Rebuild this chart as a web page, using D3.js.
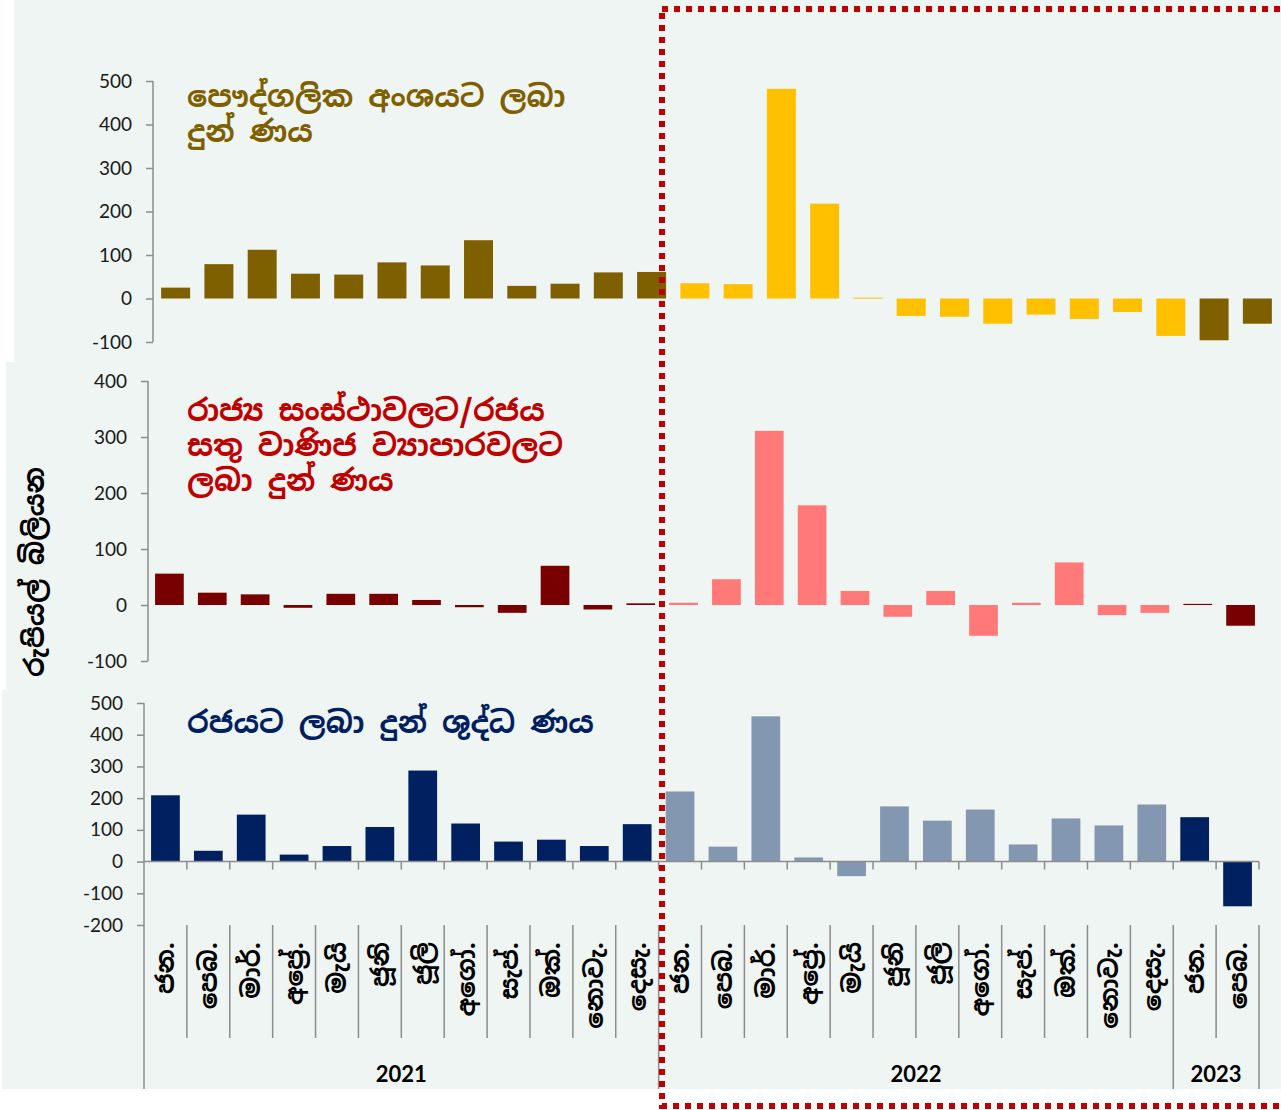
<!DOCTYPE html>
<html>
<head>
<meta charset="utf-8">
<script src="https://cdn.jsdelivr.net/npm/d3@7"></script>
<style>
  html, body { margin: 0; padding: 0; background: #ffffff; }
  svg { display: block; }
</style>
</head>
<body>
<svg id="chart" width="1281" height="1110"></svg>
<script>
// ---------------- DATA ----------------
const monthLabels = [
  "ජන.", "පෙබ.", "මාර්.", "අප්‍රේ.", "මැයි", "ජූනි", "ජූලි", "අගෝ.", "සැප්.", "ඔක්.", "නොවැ.", "දෙසැ.",
  "ජන.", "පෙබ.", "මාර්.", "අප්‍රේ.", "මැයි", "ජූනි", "ජූලි", "අගෝ.", "සැප්.", "ඔක්.", "නොවැ.", "දෙසැ.",
  "ජන.", "පෙබ."
];
const yearOfMonth = [
  "2021","2021","2021","2021","2021","2021","2021","2021","2021","2021","2021","2021",
  "2022","2022","2022","2022","2022","2022","2022","2022","2022","2022","2022","2022",
  "2023","2023"
];
const yearLabels = ["2021", "2022", "2023"];
const highlightYear = "2022";

// Rs. billion
const privateCredit = [25, 79, 112, 57, 55, 83, 76, 134, 29, 34, 60, 61,
                       35, 33, 482, 218, 2, -40, -42, -58, -37, -47, -31, -86,
                       -96, -58];
const soeCredit = [56, 22, 19, -5, 20, 20, 9, -4, -14, 70, -8, 3,
                   4, 46, 311, 178, 25, -21, 25, -55, 4, 76, -18, -14,
                   2, -37];
const govCredit = [209, 34, 148, 22, 49, 109, 287, 120, 63, 69, 49, 118,
                   221, 47, 458, 13, -46, 174, 129, 164, 54, 136, 114, 180,
                   140, -141];

const privateTicks = [-100, 0, 100, 200, 300, 400, 500];
const soeTicks = [-100, 0, 100, 200, 300, 400];
const govTicks = [-200, -100, 0, 100, 200, 300, 400, 500];

const titlePrivate = ["පෞද්ගලික අංශයට ලබා", "දුන් ණය"];
const titleSoe = ["රාජ්‍ය සංස්ථාවලට/රජය", "සතු වාණිජ ව්‍යාපාරවලට", "ලබා දුන් ණය"];
const titleGov = ["රජයට ලබා දුන් ශුද්ධ ණය"];
const yAxisTitle = "රුපියල් බිලියන";

// ---------------- DRAWING ----------------
const svg = d3.select("#chart");
const sinhalaFont = '"Noto Sans Sinhala", "Iskoola Pota", "Noto Sans", "DejaVu Sans", sans-serif';
const numFont = '"Lato", "Noto Sans", sans-serif';
const bg = "#EFF5F3";
const axisColor = "#8C8C8C";

// backgrounds
svg.append("rect").attr("x", 14).attr("y", 0).attr("width", 1267).attr("height", 362).attr("fill", bg);
svg.append("rect").attr("x", 6).attr("y", 362).attr("width", 1275).attr("height", 328).attr("fill", bg);
svg.append("rect").attr("x", 2).attr("y", 690).attr("width", 1279).attr("height", 399).attr("fill", bg);

const idx = d3.range(monthLabels.length);

const panels = [
  { data: privateCredit, ticks: privateTicks, axisX: 153, xr: [154, 1279], yr: [342, 81],
    dark: "#7F6000", light: "#FFC000", title: titlePrivate, titleColor: "#7F6000", titleY: 107 },
  { data: soeCredit, ticks: soeTicks, axisX: 148, xr: [148, 1262], yr: [661, 381],
    dark: "#780000", light: "#FF7979", title: titleSoe, titleColor: "#C00000", titleY: 421 },
  { data: govCredit, ticks: govTicks, axisX: 144, xr: [144, 1259], yr: [925, 703],
    dark: "#002060", light: "#8497B0", title: titleGov, titleColor: "#002060", titleY: 733 }
];

panels.forEach((p, pi) => {
  const x = d3.scaleBand().domain(idx).range(p.xr).paddingInner(0.33).paddingOuter(0.165);
  const y = d3.scaleLinear().domain([p.ticks[0], p.ticks[p.ticks.length - 1]]).range(p.yr);
  p.x = x; p.y = y;

  const g = svg.append("g");
  g.selectAll("rect.bar").data(p.data).join("rect")
    .attr("class", "bar")
    .attr("x", (d, i) => x(i))
    .attr("width", x.bandwidth())
    .attr("y", d => y(Math.max(0, d)))
    .attr("height", d => Math.max(1, Math.abs(y(d) - y(0))))
    .attr("fill", (d, i) => yearOfMonth[i] === highlightYear ? p.light : p.dark);

  const ax = d3.axisLeft(y).tickValues(p.ticks).tickSize(7).tickSizeOuter(0).tickPadding(14)
    .tickFormat(d => String(d));
  const ag = svg.append("g").attr("transform", `translate(${p.axisX},0)`).call(ax);
  ag.select(".domain").remove();
  ag.selectAll(".tick line").attr("stroke", axisColor).attr("stroke-width", 1.5);
  ag.selectAll(".tick text").attr("fill", "#1a1a1a").style("font-size", "19px").style("font-family", numFont);
  const lineBottom = pi === 2 ? 1089 : p.yr[0];
  svg.append("line").attr("x1", p.axisX).attr("x2", p.axisX)
    .attr("y1", p.yr[1]).attr("y2", lineBottom)
    .attr("stroke", axisColor).attr("stroke-width", 1.5);

  const t = svg.append("text").attr("x", 187).attr("y", p.titleY)
    .attr("fill", p.titleColor).style("font-family", sinhalaFont)
    .style("font-size", "30px").style("font-weight", "bold");
  p.title.forEach((line, li) => {
    t.append("tspan").attr("x", 187).attr("y", p.titleY + li * 35).text(line);
  });
});

// bottom category axis
const pb = panels[2];
const xb = pb.x, yb = pb.y;
const x0 = pb.xr[0];
const boundaries = d3.range(monthLabels.length + 1).map(i => x0 + i * (pb.xr[1] - x0) / monthLabels.length);
const zeroY = yb(0);
svg.append("line").attr("x1", x0).attr("x2", pb.xr[1]).attr("y1", zeroY).attr("y2", zeroY)
  .attr("stroke", axisColor).attr("stroke-width", 1.5);
svg.selectAll("line.xtick").data(boundaries.slice(1)).join("line").attr("class", "xtick")
  .attr("x1", d => d).attr("x2", d => d).attr("y1", zeroY).attr("y2", zeroY + 8)
  .attr("stroke", axisColor).attr("stroke-width", 1.5);

const yearStarts = yearLabels.map(yl => yearOfMonth.indexOf(yl));
svg.selectAll("line.msep").data(boundaries.slice(1)).join("line").attr("class", "msep")
  .attr("x1", d => d).attr("x2", d => d)
  .attr("y1", 925)
  .attr("y2", (d, i) => (yearStarts.includes(i + 1) || i + 1 === monthLabels.length) ? 1089 : 1038)
  .attr("stroke", axisColor).attr("stroke-width", 1.5);

svg.selectAll("text.month").data(monthLabels).join("text").attr("class", "month")
  .attr("transform", (d, i) => `translate(${xb(i) + xb.bandwidth() / 2 + 9},942) rotate(-90)`)
  .attr("text-anchor", "end")
  .style("font-family", sinhalaFont).style("font-size", "25px").style("font-weight", "bold")
  .attr("fill", "#000").text(d => d);

yearLabels.forEach(yl => {
  const first = yearOfMonth.indexOf(yl);
  const last = yearOfMonth.lastIndexOf(yl);
  const cx = (boundaries[first] + boundaries[last + 1]) / 2;
  svg.append("text").attr("x", cx).attr("y", 1082).attr("text-anchor", "middle")
    .style("font-family", numFont).style("font-size", "22px").style("font-weight", "bold")
    .attr("fill", "#000").text(yl);
});

svg.append("text").attr("transform", "translate(44,572) rotate(-90)")
  .attr("text-anchor", "middle")
  .style("font-family", sinhalaFont).style("font-size", "27px").style("font-weight", "bold")
  .attr("fill", "#000").text(yAxisTitle);

// red dotted highlight frame
svg.append("rect").attr("x", 662).attr("y", 9).attr("width", 660).attr("height", 1097)
  .attr("fill", "none").attr("stroke", "#C00000").attr("stroke-width", 6)
  .attr("stroke-dasharray", "6,6");
</script>
</body>
</html>
